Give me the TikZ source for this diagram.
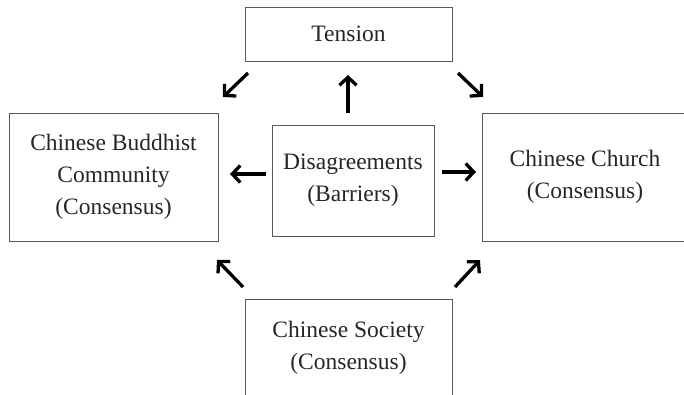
\documentclass[tikz,border=0pt]{standalone}
\usepackage{fontspec}
\setmainfont{Liberation Serif}
\usetikzlibrary{arrows.meta}
\begin{document}
\begin{tikzpicture}[x=1pt, y=-1pt, >={Straight Barb[length=8pt,width=17pt]},
	box/.style={draw=black!65, line width=0.8pt, align=center, inner sep=0pt,
		text=black!85, font=\fontsize{23.5}{32}\selectfont},
	arr/.style={->, line width=3.3pt}]
	% --- Area ---
	\useasboundingbox (0,0) rectangle (684,394);
	\clip (0,0) rectangle (684,394);
	
	% --- Riquadri ---
	\node[box, minimum width=207pt, minimum height=54pt] (ten) at (348.5,34) {Tension};
	\node[box, minimum width=209pt, minimum height=128pt] (bud) at (113.5,177)
		{Chinese Buddhist\\Community\\(Consensus)};
	\node[box, minimum width=162pt, minimum height=111pt] (dis) at (353,180.5)
		{Disagreements\\(Barriers)};
	\node[box, minimum width=206pt, minimum height=128pt] (chu) at (585,177)
		{Chinese Church\\(Consensus)};
	\node[box, minimum width=207pt, minimum height=98pt] (soc) at (348.5,348)
		{Chinese Society\\(Consensus)};
	
	% --- Estremi delle frecce ---
	\coordinate (tb1) at (248,73);  \coordinate (tb2) at (223,97);
	\coordinate (tc1) at (458,73);  \coordinate (tc2) at (483,97);
	\coordinate (dt1) at (348,113); \coordinate (dt2) at (348,75);
	\coordinate (db1) at (266,174); \coordinate (db2) at (230,174);
	\coordinate (dc1) at (442,172); \coordinate (dc2) at (476,172);
	\coordinate (sb1) at (243,287); \coordinate (sb2) at (217,260);
	\coordinate (sc1) at (455,287); \coordinate (sc2) at (480,260);
	
	% --- Frecce ---
	\draw[arr] (tb1) -- (tb2);
	\draw[arr] (tc1) -- (tc2);
	\draw[arr] (dt1) -- (dt2);
	\draw[arr] (db1) -- (db2);
	\draw[arr] (dc1) -- (dc2);
	\draw[arr] (sb1) -- (sb2);
	\draw[arr] (sc1) -- (sc2);
\end{tikzpicture}
\end{document}
